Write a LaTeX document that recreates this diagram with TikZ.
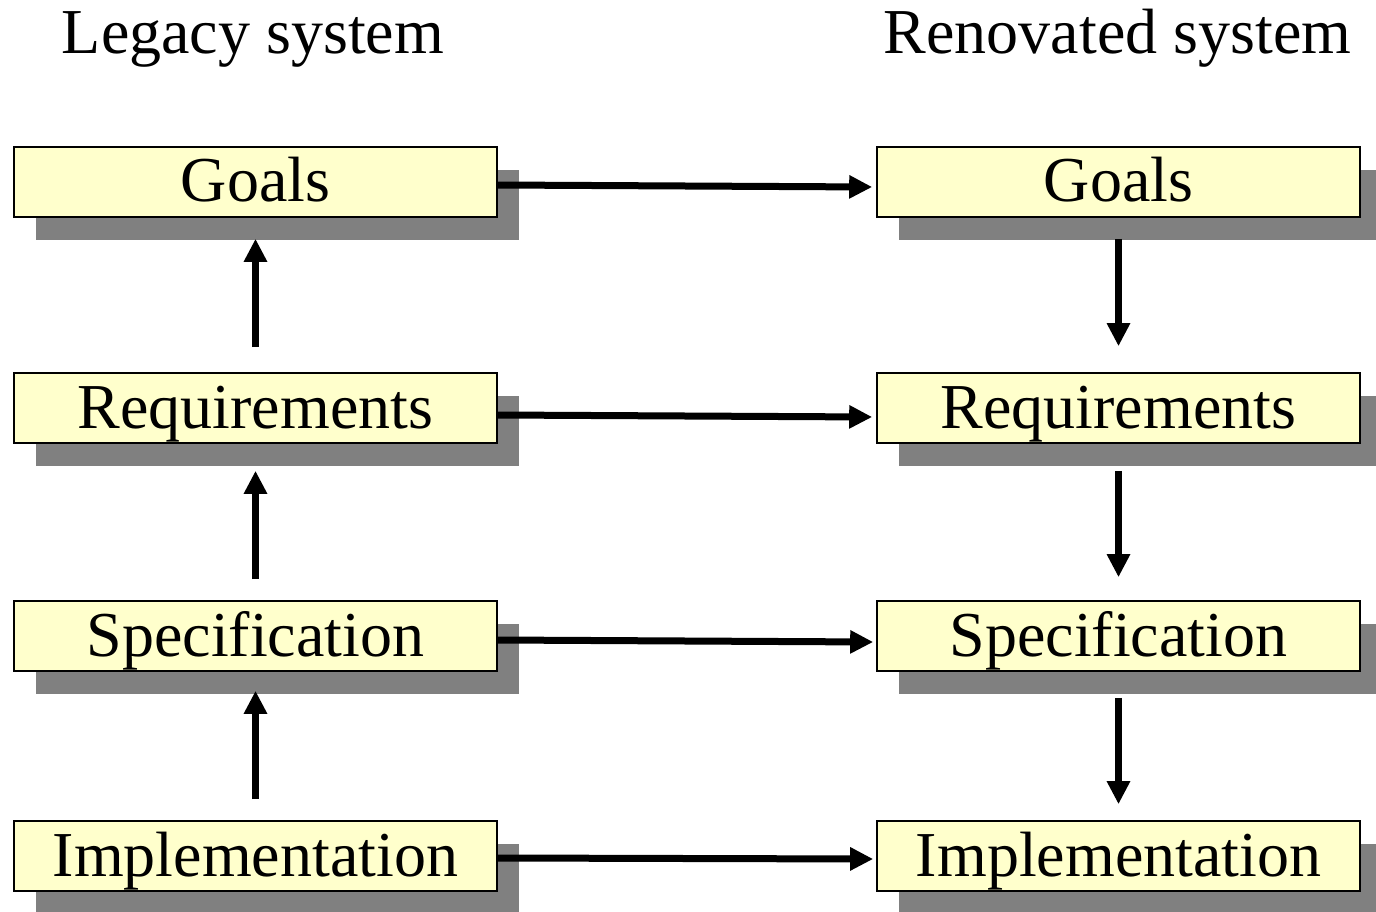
\documentclass[tikz,border=0pt]{standalone}
\usepackage{fontspec}
\setmainfont{Liberation Serif}
\usetikzlibrary{arrows.meta,shadows}
\definecolor{boxfill}{RGB}{255,255,204}
\definecolor{shadowgray}{RGB}{128,128,128}
\begin{document}
\begin{tikzpicture}[x=1pt,y=-1pt,
  stagebox/.style={draw=black, line width=1.6pt, fill=boxfill,
    minimum width=483pt, minimum height=70pt, inner sep=0pt,
    text height=40pt, text depth=0pt,
    font=\fontsize{64}{70}\selectfont,
    drop shadow={shadow xshift=22pt, shadow yshift=-23pt, fill=shadowgray, opacity=1}},
  title/.style={anchor=base, inner sep=0pt, font=\fontsize{64}{70}\selectfont},
  arr/.style={line width=7pt, -{Triangle[length=23pt,width=22pt]}}]
\useasboundingbox (0,0) rectangle (1376,912);
\node[title] (tl) at (253,54) {Legacy system};
\node[title] (tr) at (1117.5,54) {Renovated system};
% left column
\node[stagebox] (gl) at (255.5,182) {Goals};
\node[stagebox] (rl) at (255.5,408) {Requirements};
\node[stagebox] (sl) at (255.5,636) {Specification};
\node[stagebox] (il) at (255.5,856) {Implementation};
% right column
\node[stagebox] (gr) at (1118.5,182) {Goals};
\node[stagebox] (rr) at (1118.5,408) {Requirements};
\node[stagebox] (sr) at (1118.5,636) {Specification};
\node[stagebox] (ir) at (1118.5,856) {Implementation};
% upward arrows (legacy)
\draw[arr] ([yshift=25pt]rl.north) -- ([yshift=-21pt]gl.south);
\draw[arr] ([yshift=21pt]sl.north) -- ([yshift=-27pt]rl.south);
\draw[arr] ([yshift=21pt]il.north) -- ([yshift=-19pt]sl.south);
% downward arrows (renovated)
\draw[arr] ([yshift=-21pt]gr.south) -- ([yshift=26pt]rr.north);
\draw[arr] ([yshift=-27pt]rr.south) -- ([yshift=23pt]sr.north);
\draw[arr] ([yshift=-26pt]sr.south) -- ([yshift=16pt]ir.north);
% horizontal arrows
\draw[arr] ([yshift=-3pt]gl.east) -- ([yshift=-5pt,xshift=-4pt]gr.west);
\draw[arr] ([yshift=-7pt]rl.east) -- ([yshift=-9pt,xshift=-4pt]rr.west);
\draw[arr] ([yshift=-4pt]sl.east) -- ([yshift=-6pt,xshift=-3pt]sr.west);
\draw[arr] ([yshift=-2pt]il.east) -- ([yshift=-3pt,xshift=-3pt]ir.west);
\end{tikzpicture}
\end{document}
